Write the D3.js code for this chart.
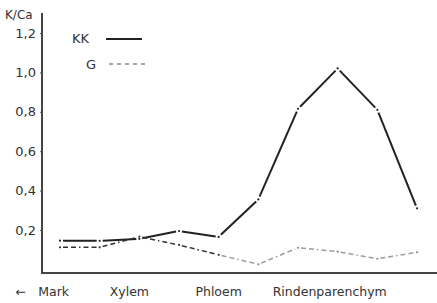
<!DOCTYPE html>
<html><head><meta charset="utf-8">
<script src="https://cdn.jsdelivr.net/npm/d3@7"></script>
<style>
html,body{margin:0;padding:0;background:#fff;}
text{font-family:"DejaVu Sans",sans-serif;fill:#333;}
</style></head>
<body>
<svg id="c" width="437" height="303"></svg>
<script>
// data
const steps = [0,1,2,3,4,5,6,7,8,9];
const kk = [0.146,0.145,0.155,0.195,0.165,0.355,0.815,1.02,0.81,0.31];
const g  = [0.112,0.112,0.166,0.124,0.074,0.026,0.11,0.09,0.054,0.087];
const xLabels = ["←\u2003Mark","Xylem","Phloem","Rindenparenchym"];
const xLabelPos = [-0.45,1.75,4,6.8];
const yTicks = [0.2,0.4,0.6,0.8,1.0,1.2];
const seriesNames = ["KK","G"];

const svg = d3.select("#c");
const x = d3.scaleLinear().domain([0,9]).range([60,417]);
const y = d3.scaleLinear().domain([0,1.3]).range([269.4,13.3]);

// axes lines
svg.append("line").attr("x1",42).attr("x2",42).attr("y1",13).attr("y2",273)
  .attr("stroke","#444").attr("stroke-width",2);
svg.append("line").attr("x1",41).attr("x2",437).attr("y1",273).attr("y2",273)
  .attr("stroke","#444").attr("stroke-width",2);

const yAxis = d3.axisLeft(y).tickValues(yTicks).tickSize(2).tickPadding(4)
  .tickFormat(d => d3.format(".1f")(d).replace(".",","));
const ga = svg.append("g").attr("transform","translate(42,0)").call(yAxis);
ga.select(".domain").remove();
ga.selectAll(".tick line").attr("stroke","#555");
ga.selectAll(".tick text").attr("font-size",13).attr("fill","#333")
  .attr("font-family","DejaVu Sans, sans-serif");

svg.append("text").attr("x",5).attr("y",19).attr("font-size",12).text("K/Ca");

// x labels
svg.selectAll(".xl").data(xLabels).enter().append("text")
  .attr("class","xl")
  .attr("x",(d,i)=>x(xLabelPos[i]))
  .attr("y",296)
  .attr("text-anchor","middle")
  .attr("font-size",12.5)
  .text(d=>d);

// segmented lines with gaps at points
function drawSeries(vals, style){
  const pts = vals.map((v,i)=>[x(steps[i]), y(v)]);
  const segs = [];
  for(let i=0;i<pts.length-1;i++){
    const [x1,y1]=pts[i],[x2,y2]=pts[i+1];
    const dx=x2-x1, dy=y2-y1, L=Math.hypot(dx,dy), gp=3;
    segs.push({i, a:[x1+dx*gp/L, y1+dy*gp/L], b:[x2-dx*gp/L, y2-dy*gp/L]});
  }
  const line = d3.line();
  svg.append("g").selectAll("path").data(segs).enter().append("path")
    .attr("d",s=>line([s.a,s.b]))
    .attr("fill","none")
    .attr("stroke",s=>style.color(s.i))
    .attr("stroke-width",style.width)
    .attr("stroke-dasharray",style.dash||null);
  svg.append("g").selectAll("circle").data(pts).enter().append("circle")
    .attr("cx",p=>p[0]).attr("cy",p=>p[1]).attr("r",1.1)
    .attr("fill",(p,i)=>style.dot(i));
}
drawSeries(kk,{color:()=>"#222",dot:()=>"#222",width:2});
drawSeries(g,{color:i=>i<4?"#333":"#9c9c9c",dot:i=>i<5?"#333":"#888",width:1.5,dash:"5,3,5,3,1.5,3"});

// legend
svg.append("text").attr("x",72).attr("y",43).attr("font-size",13).text(seriesNames[0]);
svg.append("line").attr("x1",106).attr("x2",142).attr("y1",39).attr("y2",39)
  .attr("stroke","#222").attr("stroke-width",2);
svg.append("text").attr("x",86).attr("y",69).attr("font-size",13).text(seriesNames[1]);
svg.append("line").attr("x1",109).attr("x2",145).attr("y1",64).attr("y2",64)
  .attr("stroke","#888").attr("stroke-width",1.3).attr("stroke-dasharray","4,4");
</script>
</body></html>
